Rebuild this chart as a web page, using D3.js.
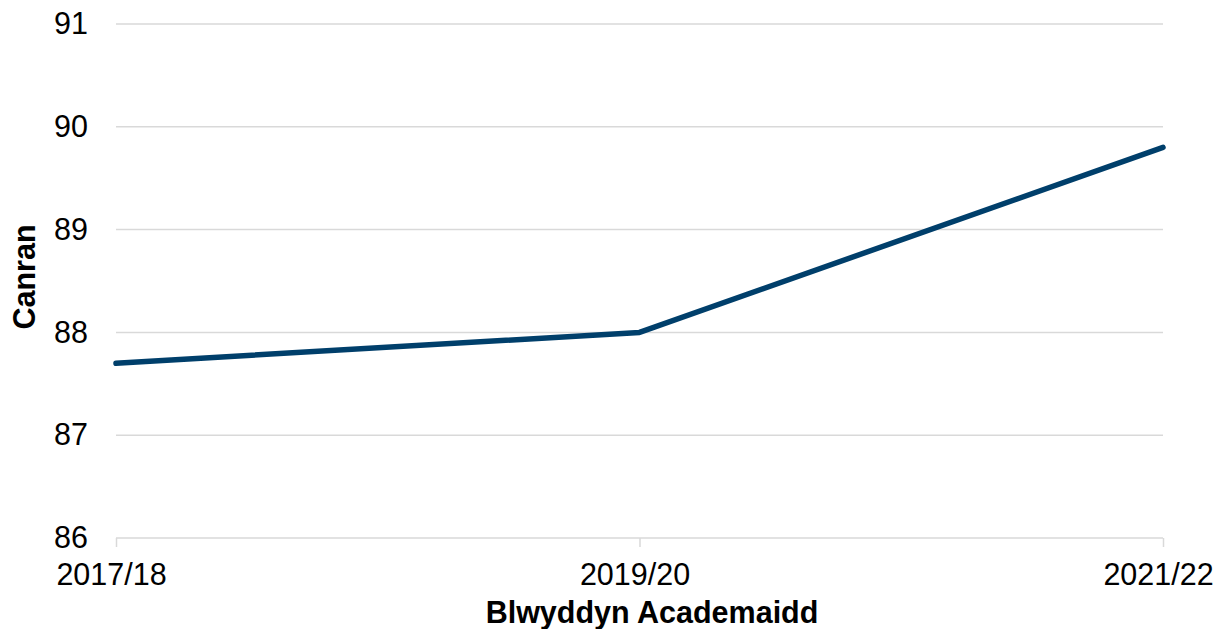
<!DOCTYPE html>
<html>
<head>
<meta charset="utf-8">
<script src="https://cdn.jsdelivr.net/npm/d3@7"></script>
<style>
  body { margin: 0; background: #fff; }
  text { font-family: "Liberation Sans", Arial, sans-serif; fill: #000; }
</style>
</head>
<body>
<div id="chart"></div>
<script>
let years = ["2017/18", "2019/20", "2021/22"]
let values = [87.7, 88.0, 89.8]
let yTicks = [86, 87, 88, 89, 90, 91]

let width = 1221,
    height = 629
let margin = { left: 116, right: 58, top: 24, bottom: 91 }

let svg = d3.select("#chart").append("svg")
    .attr("width", width)
    .attr("height", height)

let xScale = d3.scalePoint()
    .domain(years)
    .range([margin.left, width - margin.right])
let yScale = d3.scaleLinear()
    .domain([86, 91])
    .range([height - margin.bottom, margin.top])

// gridlines
svg.append("g")
    .selectAll("line")
    .data(yTicks)
    .enter()
    .append("line")
    .attr("x1", margin.left)
    .attr("x2", width - margin.right)
    .attr("y1", function(d) { return yScale(d); })
    .attr("y2", function(d) { return yScale(d); })
    .attr("stroke", "#d9d9d9")
    .attr("stroke-width", 1.5)

// y axis labels
let yAxis = svg.append("g")
    .attr("transform", "translate(" + margin.left + ",0)")
    .call(d3.axisLeft(yScale).tickValues(yTicks).tickFormat(d3.format("d")).tickSize(0).tickPadding(28))
yAxis.select(".domain").remove()
yAxis.selectAll("text")
    .style("font-size", "30.5px")
    .style("font-family", "Liberation Sans, Arial, sans-serif")
    .attr("fill", "#000")

// x axis
let xAxis = svg.append("g")
    .attr("transform", "translate(0," + yScale(86) + ")")
    .call(d3.axisBottom(xScale).tickSize(9).tickPadding(16))
xAxis.select(".domain").remove()
xAxis.selectAll(".tick line")
    .attr("stroke", "#d9d9d9")
    .attr("stroke-width", 1.5)
xAxis.selectAll("text")
    .style("font-size", "30.5px")
    .style("font-family", "Liberation Sans, Arial, sans-serif")
    .attr("fill", "#000")
    .attr("dx", "-5")

// line
let line = d3.line()
    .x(function(d, i) { return xScale(years[i]); })
    .y(function(d) { return yScale(d); })
svg.append("path")
    .datum(values)
    .attr("d", line)
    .attr("fill", "none")
    .attr("stroke", "#003f6b")
    .attr("stroke-width", 5.5)
    .attr("stroke-linecap", "round")
    .attr("stroke-linejoin", "round")

// axis titles
svg.append("text")
    .attr("x", 652)
    .attr("y", 623)
    .attr("text-anchor", "middle")
    .style("font-size", "30.5px")
    .style("font-weight", "bold")
    .text("Blwyddyn Academaidd")

svg.append("text")
    .attr("transform", "translate(35,277) rotate(-90)")
    .attr("text-anchor", "middle")
    .style("font-size", "30.5px")
    .style("font-weight", "bold")
    .text("Canran")
</script>
</body>
</html>
